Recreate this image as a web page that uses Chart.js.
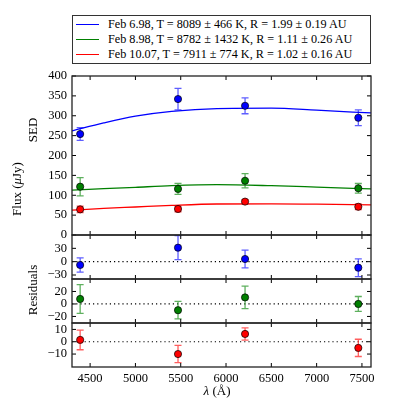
<!DOCTYPE html>
<html>
<head>
<meta charset="utf-8">
<script src="https://cdn.jsdelivr.net/npm/chart.js@4"></script>
<style>
  html, body { margin: 0; padding: 0; background: #fff; }
  #wrap { position: relative; width: 399px; height: 399px; font-family: "Liberation Serif", serif; color: #000; }
  #chart { position: absolute; left: 0; top: 0; }
  .lbl { position: absolute; font-size: 13px; white-space: nowrap; transform: translate(-50%, -50%) rotate(-90deg); }
  .xlbl { position: absolute; font-size: 13px; white-space: nowrap; transform: translate(-50%, -50%); }
  #legend { position: absolute; left: 72px; top: 15px; width: 297px; height: 47px; border: 1px solid #333; font-size: 12.2px; background: #fff; }
  .row { position: absolute; left: 0; height: 15px; line-height: 15px; white-space: nowrap; }
  .sw { position: absolute; left: 3px; top: 7px; width: 23px; height: 0; border-top: 1.5px solid; }
  .txt { position: absolute; left: 35px; top: 0; }
</style>
</head>
<body>
<div id="wrap">
  <canvas id="chart" width="399" height="399"></canvas>
  <div id="legend"></div>
  <div class="lbl" style="left:33px; top:130px;">SED</div>
  <div class="lbl" style="left:17px; top:189px;">Flux (<i>μ</i>Jy)</div>
  <div class="lbl" style="left:33px; top:290px;">Residuals</div>
  <div class="xlbl" style="left:217px; top:391px;"><i>λ</i> (Å)</div>
</div>
<script>
// filters (Å)
const wavelengths = [4390, 5470, 6210, 7460];

const legendLabels = [
  'Feb 6.98, T = 8089 ± 466 K, R = 1.99 ± 0.19 AU',
  'Feb 8.98, T = 8782 ± 1432 K, R = 1.11 ± 0.26 AU',
  'Feb 10.07, T = 7911 ± 774 K, R = 1.02 ± 0.16 AU'
];
const colors = ['#0000ff', '#008000', '#ff0000'];
const errColors = ['rgba(40,40,255,0.75)', 'rgba(40,150,40,0.75)', 'rgba(255,40,40,0.75)'];

// measured flux (µJy) and errors
const fluxBlue  = [254, 342, 325, 295];
const errBlue   = [16, 27, 20, 20];
const fluxGreen = [121.5, 116, 136.5, 117.5];
const errGreen  = [23, 14, 18, 12];
const fluxRed   = [64.5, 65.5, 84, 71];
const errRed    = [8, 7, 5, 7];

// fitted blackbody curves
const modelX     = [4300, 4650, 5000, 5400, 5900, 6500, 7000, 7600];
const modelBlue  = [262, 282, 299, 311, 318, 319, 314, 307];
const modelGreen = [113, 116.5, 120, 124, 126.5, 124, 120.5, 116];
const modelRed   = [62.5, 67, 70.5, 74.5, 78, 78.5, 77.5, 76];

// residuals
const residBlue  = [-7.5, 31.5, 6, -13.5];
const residGreen = [8, -10, 10.5, 0];
const residRed   = [1.5, -10, 6.3, -5];

const xTicks = [4500, 5000, 5500, 6000, 6500, 7000, 7500];
const sedTicks = [0, 50, 100, 150, 200, 250, 300, 350, 400];
const resTicksBlue = [-30, 0, 30];
const resTicksGreen = [-20, 0, 20];
const resTicksRed = [-10, 0, 10];

// legend
const legendEl = document.getElementById('legend');
legendLabels.forEach((t, i) => {
  const row = document.createElement('div');
  row.className = 'row';
  row.style.top = (1 + i * 15) + 'px';
  row.innerHTML = '<span class="sw" style="border-color:' + colors[i] + '"></span><span class="txt">' + t + '</span>';
  legendEl.appendChild(row);
});

const pts = (ys) => wavelengths.map((x, i) => ({ x, y: ys[i] }));
const curve = (ys) => modelX.map((x, i) => ({ x, y: ys[i] }));
const minus = (v) => String(v).replace('-', '\u2212');
const tickFont = { family: '"Liberation Serif", serif', size: 12.5 };

const panels = [
  { axis: 'y',  sets: [[fluxBlue, errBlue, 0], [fluxGreen, errGreen, 1], [fluxRed, errRed, 2]], ticks: sedTicks, zero: false },
  { axis: 'r1', sets: [[residBlue, errBlue, 0]], ticks: resTicksBlue, zero: true },
  { axis: 'r2', sets: [[residGreen, errGreen, 1]], ticks: resTicksGreen, zero: true },
  { axis: 'r3', sets: [[residRed, errRed, 2]], ticks: resTicksRed, zero: true }
];

const pointSet = (ys, c, axis) => ({
  type: 'scatter', data: pts(ys), yAxisID: axis, order: 0,
  pointRadius: 3.6, backgroundColor: colors[c], borderColor: '#000', borderWidth: 0.7
});
const lineSet = (ys, c) => ({
  type: 'line', data: curve(ys), yAxisID: 'y', order: 1,
  borderColor: colors[c], borderWidth: 1.3, pointRadius: 0, cubicInterpolationMode: 'monotone', fill: false
});

const yScale = (min, max, vals, weight) => ({
  type: 'linear', position: 'left', stack: 'panels', stackWeight: weight, min, max,
  grid: { display: false, drawTicks: false }, border: { display: false },
  afterBuildTicks: s => { s.ticks = vals.map(v => ({ value: v })); },
  afterFit: s => { s.width = 40; },
  ticks: { padding: 5, color: '#000', font: tickFont, autoSkip: false, callback: v => minus(v) }
});

const framePlugin = {
  id: 'frames',
  beforeDatasetsDraw(chart) {
    const c = chart.ctx, xs = chart.scales.x, ca = chart.chartArea;
    c.save();
    panels.forEach(p => {
      const ys = chart.scales[p.axis];
      if (p.zero) {
        c.strokeStyle = '#000'; c.lineWidth = 1.2; c.setLineDash([1.2, 3]);
        const y0 = ys.getPixelForValue(0);
        c.beginPath(); c.moveTo(ca.left, y0); c.lineTo(ca.right, y0); c.stroke();
        c.setLineDash([]);
      }
      p.sets.forEach(([vals, errs, ci]) => {
        c.strokeStyle = errColors[ci]; c.lineWidth = 1.3;
        wavelengths.forEach((w, i) => {
          const x = xs.getPixelForValue(w);
          const t = ys.getPixelForValue(vals[i] + errs[i]);
          const b = ys.getPixelForValue(vals[i] - errs[i]);
          c.beginPath();
          c.moveTo(x, t); c.lineTo(x, b);
          c.moveTo(x - 3.5, t); c.lineTo(x + 3.5, t);
          c.moveTo(x - 3.5, b); c.lineTo(x + 3.5, b);
          c.stroke();
        });
      });
    });
    c.restore();
  },
  afterDraw(chart) {
    const c = chart.ctx, xs = chart.scales.x, ca = chart.chartArea;
    c.save();
    c.strokeStyle = '#000'; c.lineWidth = 1;
    panels.forEach(p => {
      const ys = chart.scales[p.axis];
      const top = ys.top, bot = ys.bottom;
      c.beginPath();
      xTicks.forEach(v => {
        const x = xs.getPixelForValue(v);
        c.moveTo(x, top); c.lineTo(x, top + 4);
        c.moveTo(x, bot); c.lineTo(x, bot - 4);
      });
      p.ticks.forEach(v => {
        const y = ys.getPixelForValue(v);
        c.moveTo(ca.left, y); c.lineTo(ca.left + 4, y);
        c.moveTo(ca.right, y); c.lineTo(ca.right - 4, y);
      });
      c.stroke();
    });
    c.lineWidth = 1.3; c.strokeStyle = '#222';
    panels.forEach(p => {
      const ys = chart.scales[p.axis];
      c.strokeRect(ca.left, ys.top, ca.right - ca.left, ys.bottom - ys.top);
    });
    c.restore();
  }
};

new Chart(document.getElementById('chart'), {
  data: {
    datasets: [
      pointSet(fluxBlue, 0, 'y'), pointSet(fluxGreen, 1, 'y'), pointSet(fluxRed, 2, 'y'),
      pointSet(residBlue, 0, 'r1'), pointSet(residGreen, 1, 'r2'), pointSet(residRed, 2, 'r3'),
      lineSet(modelBlue, 0), lineSet(modelGreen, 1), lineSet(modelRed, 2)
    ]
  },
  options: {
    responsive: false, animation: false,
    layout: { padding: { left: 32, right: 28, top: 76, bottom: 0 } },
    plugins: { legend: { display: false }, tooltip: { enabled: false } },
    scales: {
      x: {
        type: 'linear', min: 4300, max: 7600,
        grid: { display: false, drawTicks: false }, border: { display: false },
        afterBuildTicks: s => { s.ticks = xTicks.map(v => ({ value: v })); },
        afterFit: s => { s.height = 32; },
        ticks: { padding: 4, color: '#000', font: tickFont, maxRotation: 0, autoSkip: false, callback: v => String(v) }
      },
      r3: yScale(-20.5, 15.2, resTicksRed, 44),
      r2: yScale(-30.5, 40, resTicksGreen, 44),
      r1: yScale(-39, 60, resTicksBlue, 44),
      y:  yScale(0, 400, sedTicks, 159)
    }
  },
  plugins: [framePlugin]
});
</script>
</body>
</html>
